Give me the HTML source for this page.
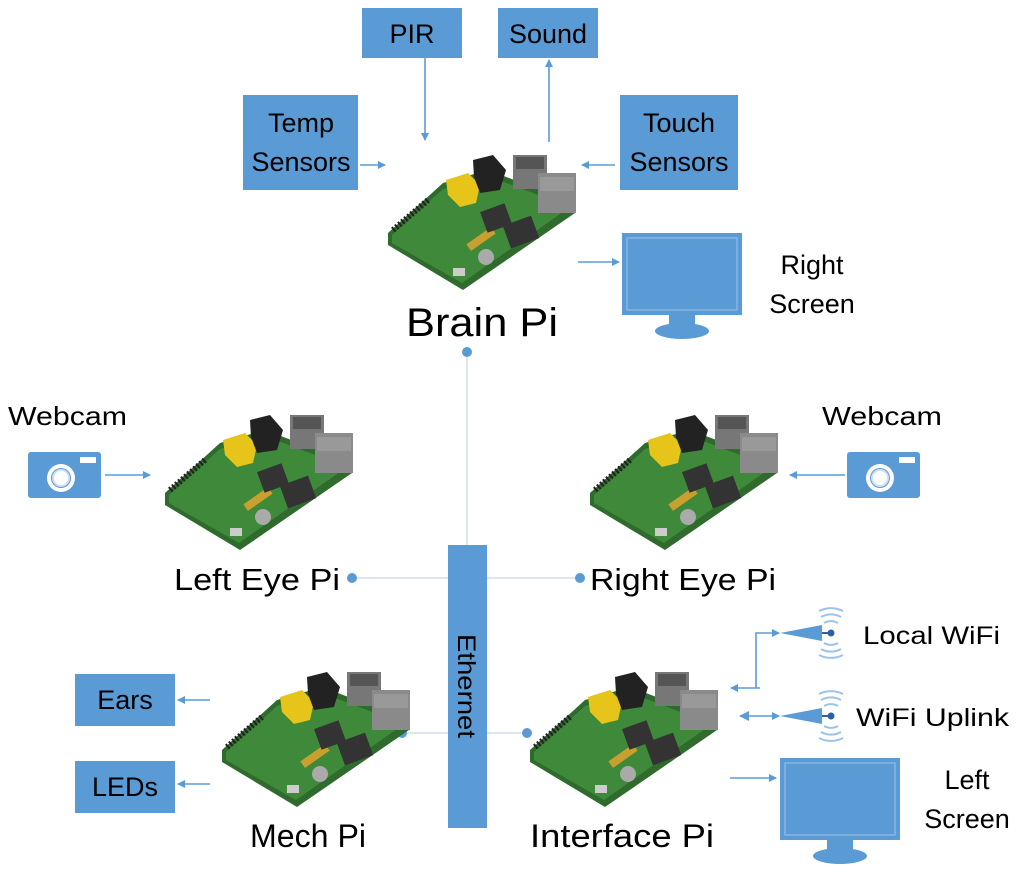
<!DOCTYPE html>
<html><head><meta charset="utf-8"><style>
html,body{margin:0;padding:0;background:#fff}
svg{display:block}
text{font-family:"Liberation Sans","DejaVu Sans",sans-serif;fill:#000}
</style></head><body>
<svg width="1024" height="872" viewBox="0 0 1024 872" xmlns="http://www.w3.org/2000/svg">
<defs>
<marker id="ah" markerWidth="8" markerHeight="8" refX="7" refY="4" orient="auto" markerUnits="userSpaceOnUse"><path d="M0,0 L8,4 L0,8 Z" fill="#5b9bd5"/></marker>
<marker id="ahs" markerWidth="10" markerHeight="10" refX="1" refY="5" orient="auto" markerUnits="userSpaceOnUse"><path d="M10,0 L0,5 L10,10 Z" fill="#5b9bd5"/></marker>
<g id="pi">
<polygon points="0,88 55,38 100,25 187,58 187,68 75,145 0,100" fill="#2f6b2c"/>
<polygon points="4,90 55,44 100,31 182,62 74,138 4,98" fill="#3e8a3a"/>
<path d="M5,85 L40,55" stroke="#222" stroke-width="6" stroke-dasharray="2,2"/>
<rect x="78" y="90" width="30" height="8" fill="#c9a030" transform="rotate(-35 93 94)"/>
<rect x="95" y="62" width="26" height="22" fill="#333" transform="rotate(-20 108 73)"/>
<polygon points="58,35 80,28 92,40 88,58 72,62 60,50" fill="#e6c41a"/>
<polygon points="85,15 105,10 118,25 112,45 92,48 86,32" fill="#222"/>
<rect x="125" y="10" width="34" height="34" fill="#777"/>
<rect x="128" y="12" width="28" height="12" fill="#555"/>
<rect x="150" y="28" width="38" height="40" fill="#8a8a8a"/>
<rect x="152" y="32" width="34" height="14" fill="#999"/>
<rect x="118" y="75" width="30" height="24" fill="#333" transform="rotate(-20 133 87)"/>
<circle cx="98" cy="112" r="8" fill="#aaa"/>
<rect x="65" y="123" width="12" height="8" fill="#ccc"/>
</g>
<g id="mon">
<rect x="0" y="0" width="120" height="82" fill="#5b9bd5"/>
<rect x="5" y="5" width="110" height="72" fill="none" stroke="#9cc3e8" stroke-width="1"/>
<rect x="47" y="82" width="26" height="13" fill="#5b9bd5"/>
<ellipse cx="60" cy="98" rx="27" ry="8" fill="#5b9bd5"/>
</g>
<g id="cam">
<rect x="0" y="0" width="73" height="46" rx="3" fill="#5b9bd5"/>
<rect x="52" y="5" width="16" height="6" fill="#fff"/>
<circle cx="33" cy="26" r="14" fill="#fff"/>
<circle cx="33" cy="26" r="10" fill="#5b9bd5"/>
<circle cx="33" cy="26" r="8" fill="#fff" stroke="#cfe0f2" stroke-width="2"/>
</g>
<g id="wifi">
<polygon points="0,12 42,4 42,20" fill="#5b9bd5"/>
<line x1="42" y1="12" x2="50" y2="12" stroke="#2e5fa0" stroke-width="2"/>
<circle cx="51" cy="12" r="3.5" fill="#2e5fa0"/>
<g fill="none" stroke="#9cc3e8" stroke-width="2">
<path d="M44,2 A14,14 0 0 1 58,2"/><path d="M44,22 A14,14 0 0 0 58,22"/>
<path d="M41,-4 A20,20 0 0 1 61,-4"/><path d="M41,28 A20,20 0 0 0 61,28"/>
<path d="M39,-10 A26,26 0 0 1 63,-10"/><path d="M39,34 A26,26 0 0 0 63,34"/>
</g>
</g>
</defs>

<g stroke="#dde6ee" stroke-width="2" fill="none">
<line x1="467" y1="352" x2="467" y2="545"/>
<line x1="352" y1="578" x2="448" y2="578"/>
<line x1="487" y1="578" x2="580" y2="578"/>
<line x1="402" y1="733" x2="448" y2="733"/>
<line x1="487" y1="733" x2="527" y2="733"/>
</g>
<g fill="#5b9bd5">
<circle cx="467" cy="352" r="5"/><circle cx="352" cy="578" r="5"/><circle cx="580" cy="578" r="5"/>
<circle cx="402" cy="733" r="5"/><circle cx="527" cy="733" r="5"/>
</g>
<rect x="448" y="545" width="39" height="283" fill="#5b9bd5"/>
<text transform="translate(458,686) rotate(90)" font-size="25" text-anchor="middle" textLength="104" lengthAdjust="spacingAndGlyphs">Ethernet</text>

<g fill="#5b9bd5">
<rect x="362" y="8" width="100" height="50"/>
<rect x="498" y="8" width="100" height="50"/>
<rect x="243" y="95" width="115" height="95"/>
<rect x="620" y="95" width="118" height="95"/>
<rect x="75" y="674" width="100" height="52"/>
<rect x="75" y="761" width="100" height="52"/>
</g>
<g font-size="27" text-anchor="middle">
<text x="412" y="43">PIR</text>
<text x="548" y="43">Sound</text>
<text x="301" y="132">Temp</text><text x="301" y="171">Sensors</text>
<text x="679" y="132">Touch</text><text x="679" y="171">Sensors</text>
<text x="125" y="709">Ears</text>
<text x="125" y="796">LEDs</text>
</g>

<g stroke="#5b9bd5" stroke-width="1.6" fill="none" marker-end="url(#ah)">
<line x1="425" y1="58" x2="425" y2="140"/>
<line x1="549" y1="142" x2="549" y2="60"/>
<line x1="360" y1="165" x2="385" y2="165"/>
<line x1="615" y1="165" x2="582" y2="165"/>
<line x1="578" y1="262" x2="619" y2="262"/>
<line x1="105" y1="475" x2="150" y2="475"/>
<line x1="845" y1="475" x2="790" y2="475"/>
<line x1="210" y1="700" x2="178" y2="700"/>
<line x1="210" y1="784" x2="178" y2="784"/>
<line x1="730" y1="778" x2="776" y2="778"/>
<polyline points="756,688 756,633 779,633"/>
<line x1="760" y1="688" x2="731" y2="688"/>
<line x1="740" y1="716" x2="779" y2="716" marker-start="url(#ahs)"/>
</g>

<use href="#pi" x="388" y="145"/>
<use href="#pi" x="165" y="405"/>
<use href="#pi" x="590" y="405"/>
<use href="#pi" x="222" y="662"/>
<use href="#pi" x="530" y="662"/>

<use href="#mon" x="622" y="233"/>
<use href="#mon" x="780" y="758"/>
<use href="#cam" x="28" y="452"/>
<use href="#cam" x="847" y="452"/>
<use href="#wifi" x="780" y="621"/>
<use href="#wifi" x="780" y="704"/>

<text x="406" y="336" font-size="40" textLength="152" lengthAdjust="spacingAndGlyphs">Brain Pi</text>
<text x="174" y="590" font-size="31" textLength="166" lengthAdjust="spacingAndGlyphs">Left Eye Pi</text>
<text x="590" y="590" font-size="31" textLength="186" lengthAdjust="spacingAndGlyphs">Right Eye Pi</text>
<text x="250" y="847" font-size="32" textLength="116" lengthAdjust="spacingAndGlyphs">Mech Pi</text>
<text x="530" y="847" font-size="32" textLength="184" lengthAdjust="spacingAndGlyphs">Interface Pi</text>
<text x="8" y="425" font-size="26" textLength="119" lengthAdjust="spacingAndGlyphs">Webcam</text>
<text x="822" y="425" font-size="26" textLength="120" lengthAdjust="spacingAndGlyphs">Webcam</text>
<g font-size="27" text-anchor="middle">
<text x="812" y="274">Right</text><text x="812" y="313">Screen</text>
<text x="967" y="789">Left</text><text x="967" y="828">Screen</text>
</g>
<text x="863" y="644" font-size="25" textLength="137" lengthAdjust="spacingAndGlyphs">Local WiFi</text>
<text x="856" y="726" font-size="25" textLength="153" lengthAdjust="spacingAndGlyphs">WiFi Uplink</text>
</svg>
</body></html>
